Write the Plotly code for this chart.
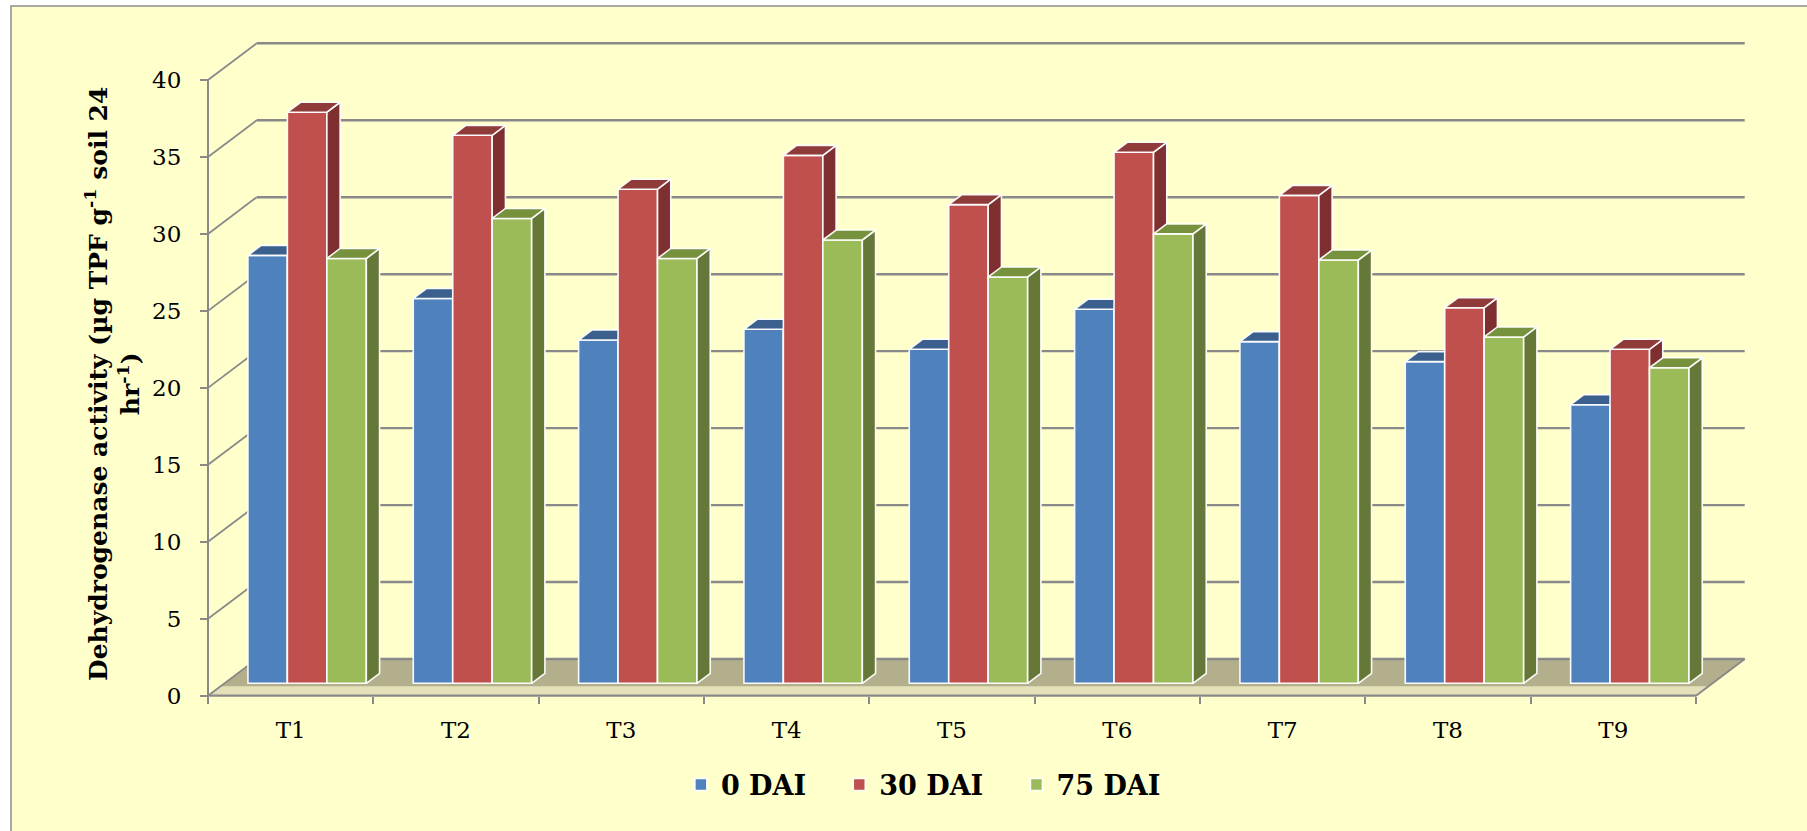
import plotly.graph_objects as go

# ---- data -------------------------------------------------------------
categories = ["T1", "T2", "T3", "T4", "T5", "T6", "T7", "T8", "T9"]
dai_0 = [27.8, 25.0, 22.3, 23.0, 21.7, 24.3, 22.2, 20.9, 18.1]
dai_30 = [37.1, 35.6, 32.1, 34.3, 31.1, 34.5, 31.7, 24.4, 21.7]
dai_75 = [27.6, 30.2, 27.6, 28.8, 26.4, 29.2, 27.5, 22.5, 20.5]
series_names = ["0 DAI", "30 DAI", "75 DAI"]
y_ticks = [0, 5, 10, 15, 20, 25, 30, 35, 40]

# face colours per series: front, top, side
front_colors = ["#4F81BD", "#C0504D", "#9BBB59"]
top_colors = ["#3B608D", "#8F3B39", "#76923C"]
side_colors = ["#2F4D72", "#7E2F2F", "#657837"]

# ---- page geometry ----------------------------------------------------
W, H = 1807, 831
X_LEFT_PX, X_RIGHT_PX = 208.0, 1696.0     # front edge of the floor
Y_ZERO_PX, Y_TOP_PX = 695.7, 80.0         # value 0 and value 40 on the front plane
PX_PER_CAT = (X_RIGHT_PX - X_LEFT_PX) / len(categories)
PX_PER_VAL = (Y_ZERO_PX - Y_TOP_PX) / 40.0

x_min = -X_LEFT_PX / PX_PER_CAT
x_max = (W - X_LEFT_PX) / PX_PER_CAT
y_min = -(H - Y_ZERO_PX) / PX_PER_VAL
y_max = Y_ZERO_PX / PX_PER_VAL

# oblique projection of the full box depth (in axis units)
DEPTH_DX = 48.7 / PX_PER_CAT
DEPTH_DY = 36.7 / PX_PER_VAL

# bars sit part-way into the box and have their own depth
BAR_FRONT = 0.338
BAR_DEPTH = 0.272
BASE = BAR_FRONT * DEPTH_DY
SHIFT = BAR_FRONT * DEPTH_DX
FACE_DX = BAR_DEPTH * DEPTH_DX
FACE_DY = BAR_DEPTH * DEPTH_DY
BAR_W = 0.2387

GRID = "#898989"
EDGE = "rgba(255,255,255,0.95)"
FONT = "DejaVu Serif"
NBSP = "\u00a0"

fig = go.Figure()

for k, (name, vals) in enumerate(zip(series_names, [dai_0, dai_30, dai_75])):
    centers = [i + 0.5 + SHIFT + (k - 1) * BAR_W for i in range(len(categories))]
    side_x, side_y, top_x, top_y = [], [], [], []
    for c, v in zip(centers, vals):
        xl, xr = c - BAR_W / 2, c + BAR_W / 2
        top = BASE + v
        side_x += [xr, xr + FACE_DX, xr + FACE_DX, xr, xr, None]
        side_y += [BASE, BASE + FACE_DY, top + FACE_DY, top, BASE, None]
        top_x += [xl, xr, xr + FACE_DX, xl + FACE_DX, xl, None]
        top_y += [top, top, top + FACE_DY, top + FACE_DY, top, None]
    fig.add_trace(go.Scatter(
        x=side_x, y=side_y, mode="lines", fill="toself", fillcolor=side_colors[k],
        line=dict(color=EDGE, width=1.6), showlegend=False, hoverinfo="skip", zorder=k + 1))
    fig.add_trace(go.Scatter(
        x=top_x, y=top_y, mode="lines", fill="toself", fillcolor=top_colors[k],
        line=dict(color=EDGE, width=1.6), showlegend=False, hoverinfo="skip", zorder=k + 1))
    # extra trailing space between legend entries
    legend_label = name + (NBSP * 3 if k < len(series_names) - 1 else "")
    fig.add_trace(go.Bar(
        x=centers, y=vals, base=BASE, width=BAR_W, name=legend_label,
        marker=dict(color=front_colors[k], line=dict(color=EDGE, width=1.6)),
        customdata=categories, hovertemplate="%{customdata}: %{y}<extra>" + name + "</extra>",
        zorder=k + 1))

shapes = []
# chart area background with its border
shapes.append(dict(type="rect", xref="paper", yref="paper",
                   x0=11 / W, x1=1.05, y0=-0.05, y1=(H - 6) / H,
                   fillcolor="#FFFFCC", line=dict(color="#8C8C8C", width=1.5), layer="below"))

# floor of the box
n = len(categories)
floor_path = (f"M 0,0 L {n},0 L {n + DEPTH_DX},{DEPTH_DY} L {DEPTH_DX},{DEPTH_DY} Z")
shapes.append(dict(type="path", xref="x", yref="y", path=floor_path,
                   fillcolor="#B3AF8C", line=dict(width=0), layer="below"))
strip = 0.26
strip_path = (f"M 0,0 L {n},0 L {n + strip * DEPTH_DX},{strip * DEPTH_DY} "
              f"L {strip * DEPTH_DX},{strip * DEPTH_DY} Z")
shapes.append(dict(type="path", xref="x", yref="y", path=strip_path,
                   fillcolor="#E4E1B8", line=dict(width=0), layer="below"))

# back-wall gridlines and side-wall diagonals
for t in y_ticks:
    shapes.append(dict(type="line", xref="x", yref="y", x0=DEPTH_DX, x1=n + DEPTH_DX,
                       y0=t + DEPTH_DY, y1=t + DEPTH_DY, line=dict(color=GRID, width=2.4),
                       layer="below"))
    shapes.append(dict(type="line", xref="x", yref="y", x0=0, x1=DEPTH_DX,
                       y0=t, y1=t + DEPTH_DY, line=dict(color=GRID, width=1.8), layer="below"))

# front axis lines
shapes.append(dict(type="line", xref="x", yref="y", x0=0, x1=0, y0=0, y1=40,
                   line=dict(color=GRID, width=2), layer="below"))
shapes.append(dict(type="line", xref="x", yref="y", x0=0, x1=n, y0=0, y1=0,
                   line=dict(color=GRID, width=2.2), layer="below"))
shapes.append(dict(type="line", xref="x", yref="y", x0=n, x1=n + DEPTH_DX, y0=0, y1=DEPTH_DY,
                   line=dict(color=GRID, width=2), layer="below"))

fig.update_layout(
    width=W, height=H,
    margin=dict(l=0, r=0, t=0, b=0),
    paper_bgcolor="white", plot_bgcolor="rgba(0,0,0,0)",
    barmode="overlay",
    shapes=shapes,
    showlegend=True,
    legend=dict(orientation="h", x=0.511, xanchor="center", y=(H - 785) / H, yanchor="middle",
                font=dict(family=FONT, size=27, color="black", weight="bold"),
                bgcolor="rgba(0,0,0,0)", traceorder="normal"),
    xaxis=dict(range=[x_min, x_max], domain=[0, 1], anchor="free", position=(H - Y_ZERO_PX) / H,
               showgrid=False, zeroline=False, showline=False,
               tickmode="array", tickvals=[i + 0.5 for i in range(n)], ticktext=categories,
               ticks="", ticklabelstandoff=18,
               tickfont=dict(family=FONT, size=23, color="black"),
               minor=dict(tickmode="array", tickvals=list(range(n + 1)), ticks="outside",
                          ticklen=7, tickwidth=2, tickcolor=GRID, showgrid=False),
               fixedrange=True),
    yaxis=dict(range=[y_min, y_max], domain=[0, 1], anchor="free", position=X_LEFT_PX / W,
               showgrid=False, zeroline=False, showline=False,
               tickmode="array", tickvals=y_ticks, ticks="outside", ticklen=8, tickwidth=2,
               tickcolor=GRID, ticklabelstandoff=14,
               tickfont=dict(family=FONT, size=23, color="black"),
               fixedrange=True),
    annotations=[dict(
        text="Dehydrogenase activity (µg TPF g<sup>-1</sup> soil 24<br>hr<sup>-1</sup>)",
        xref="paper", yref="paper", x=112 / W, y=(H - 384) / H,
        xanchor="center", yanchor="middle", textangle=-90, showarrow=False,
        font=dict(family=FONT, size=25, color="black", weight="bold"))],
)

fig.write_html("out.html")
